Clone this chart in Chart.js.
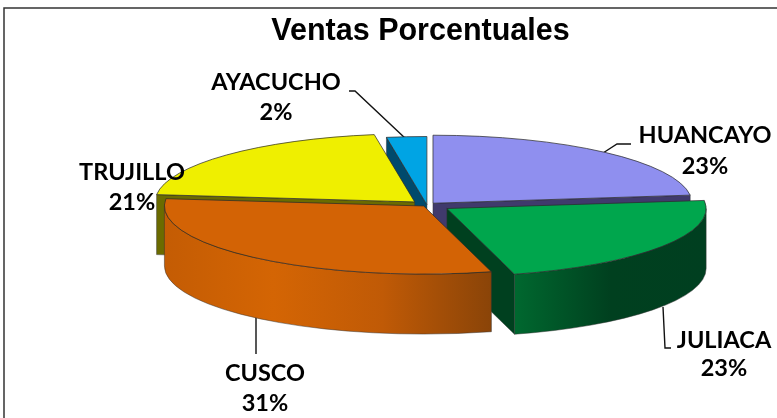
<!DOCTYPE html>
<html><head><meta charset="utf-8">
<style>html,body{margin:0;padding:0;background:#fff}canvas{display:block}#w{width:777px;height:418px}</style>
<script src="https://cdn.jsdelivr.net/npm/chart.js@4/dist/chart.umd.min.js"></script>
</head><body><div id="w"><canvas id="c"></canvas></div>
<script>
const categories = ['HUANCAYO','JULIACA','CUSCO','TRUJILLO','AYACUCHO'];
const shares = [23.1,22.7,30.91,20.8,2.49];
const explode = [36,96,20,68,4];
const topColors = ['#8f8fef','#00a64d','#d36305','#efef00','#00a4e4'];
const sideColors = ['#403a6c','#00401f','#7a3f00','#6b6b00','#004a6c'];
const wallStops = [
  ['#403a6c','#403a6c'],
  ['#00682f','#00401f','#003f20'],
  ['#c45c04','#d46504','#c05a06','#8a4408'],
  ['#6b6b00','#6b6b00'],
  ['#004a6c','#004a6c']
];
const labelBoxes = [
  {x:705,y1:135,y2:166,line:[[631,144],[617,144],[603,153]]},
  {x:724,y1:340,y2:368,line:[[663,307],[665,348],[671,348]]},
  {x:265,y1:373,y2:403,line:[[256,317],[256,354]]},
  {x:132,y1:172,y2:202,line:[]},
  {x:276,y1:82,y2:112,line:[[349,91],[355,91],[406,139]]}
];
const paintOrder = [0,4,3,1,2];
const CX=427, CY=205, SQUASH=68/259, DEPTH=60;

const pie3d = {
  id:'pie3d',
  beforeDraw(chart){
    const c=chart.ctx;
    c.save();c.fillStyle='#fff';c.fillRect(0,0,777,418);
    c.strokeStyle='#333';c.lineWidth=1.5;
    c.beginPath();c.moveTo(4,418);c.lineTo(4,8);c.lineTo(777,8);c.stroke();c.restore();
  },
  beforeDatasetsDraw(chart){
    const c=chart.ctx, meta=chart.getDatasetMeta(0);
    c.save();c.strokeStyle='#111';c.lineWidth=1.4;
    labelBoxes.forEach(b=>{ if(!b.line.length)return;
      c.beginPath();b.line.forEach((p,i)=>i?c.lineTo(p[0],p[1]):c.moveTo(p[0],p[1]));c.stroke();});
    c.restore();
    paintOrder.forEach(i=>{
      const arc=meta.data[i], o=arc.options;
      const a0=arc.startAngle,a1=arc.endAngle,mid=(a0+a1)/2;
      const off=(o.offset||0)/4;
      const fix=1-Math.sin(Math.min(Math.PI,a1-a0));
      const R=arc.outerRadius+off*fix;
      const ax=CX+Math.cos(mid)*off, ay=CY+Math.sin(mid)*off*SQUASH;
      const rim=a=>[ax+R*Math.cos(a),ay+R*Math.sin(a)*SQUASH];
      c.save();
      c.strokeStyle='#33333399';c.lineWidth=0.8;c.lineJoin='round';
      const radial=a=>{const p=rim(a);c.beginPath();c.moveTo(ax,ay);c.lineTo(p[0],p[1]);
        c.lineTo(p[0],p[1]+DEPTH);c.lineTo(ax,ay+DEPTH);c.closePath();
        c.fillStyle=sideColors[i];c.fill();c.stroke();};
      if(Math.cos(a0)<-1e-6)radial(a0);
      if(Math.cos(a1)>1e-6)radial(a1);
      const f0=Math.max(a0,0),f1=Math.min(a1,Math.PI);
      if(f1>f0){
        const p0=rim(f0),p1=rim(f1);
        const g=c.createLinearGradient(Math.min(p0[0],p1[0]),0,Math.max(p0[0],p1[0]),0);
        const st=wallStops[i];st.forEach((s,k)=>g.addColorStop(k/(st.length-1),s));
        c.beginPath();
        c.ellipse(ax,ay,R,R*SQUASH,0,f0,f1,false);
        c.lineTo(p1[0],p1[1]+DEPTH);
        c.ellipse(ax,ay+DEPTH,R,R*SQUASH,0,f1,f0,true);
        c.closePath();c.fillStyle=g;c.fill();c.stroke();
      }
      c.save();
      c.translate(CX-arc.x,CY);c.scale(1,SQUASH);c.translate(0,-arc.y);
      arc.draw(c);
      c.restore();
      c.beginPath();c.moveTo(ax,ay);
      c.ellipse(ax,ay,R,R*SQUASH,0,a0,a1,false);c.closePath();
      c.strokeStyle='#2a2a2acc';c.lineWidth=0.9;c.stroke();
      c.restore();
    });
    return false;
  },
  afterDraw(chart){
    const c=chart.ctx;
    c.save();c.fillStyle='#000';c.textAlign='center';c.textBaseline='alphabetic';
    c.font='bold 23.5px Lato';
    categories.forEach((n,i)=>{const b=labelBoxes[i];
      c.fillText(n,b.x,b.y1+8);
      c.fillText(Math.round(shares[i])+'%',b.x,b.y2+8);});
    c.restore();
  }
};

new Chart(document.getElementById('c'),{
  type:'pie',
  data:{labels:categories,datasets:[{data:shares,backgroundColor:topColors,borderWidth:0,offset:explode,clip:false}]},
  plugins:[pie3d],
  options:{
    responsive:true,maintainAspectRatio:false,animation:false,events:[],
    radius:259,
    layout:{padding:{left:64,top:0}},
    plugins:{
      legend:{display:false},tooltip:{enabled:false},
      title:{display:true,text:'Ventas Porcentuales',color:'#000',
        font:{family:'Liberation Sans',size:30.5,weight:'bold'},padding:{top:13,bottom:8}}
    }
  }
});
</script></body></html>
